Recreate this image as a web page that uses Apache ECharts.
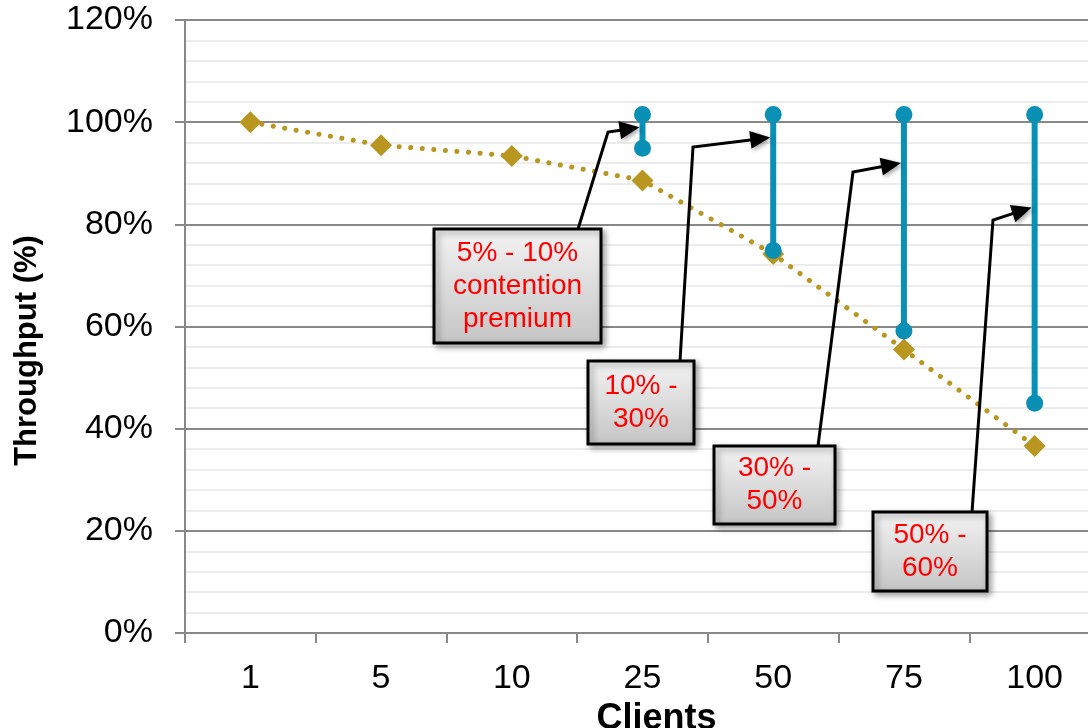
<!DOCTYPE html>
<html><head><meta charset="utf-8">
<script src="https://cdn.jsdelivr.net/npm/echarts@6/dist/echarts.min.js"></script>
<style>html,body{margin:0;padding:0;background:#fff}#c{width:1088px;height:728px}</style>
</head><body><div id="c"></div>
<script>
const categories = ['1','5','10','25','50','75','100'];
const throughput = [100, 95.5, 93.4, 88.6, 74.2, 55.5, 36.6];
const rangeCats = ['25','50','75','100'];
const rangeLow = [94.9, 74.9, 59.1, 45.0];
const rangeHigh = [101.5, 101.5, 101.5, 101.5];
const yTicks = [0, 20, 40, 60, 80, 100, 120];
const notes = ['5% - 10%\ncontention\npremium', '10% -\n30%', '30% -\n50%', '50% -\n60%'];
const noteTargets = [99.0, 97.0, 92.0, 83.3];

const GOLD = '#B8961F', TEAL = '#0A8FB5';
const chart = echarts.init(document.getElementById('c'));
const font = 'Liberation Sans, Arial, sans-serif';

chart.setOption({
  animation: false,
  grid: {left: 185, top: 20, right: -12, bottom: 95, outerBoundsMode: 'none', containLabel: false},
  xAxis: {
    type: 'category', data: categories,
    name: 'Clients', nameLocation: 'middle', nameGap: 61,
    nameTextStyle: {fontFamily: font, fontSize: 36, fontWeight: 'bold', color: '#000', padding: [0, 0, 0, 28]},
    axisLine: {lineStyle: {color: '#888', width: 2}},
    axisTick: {show: true, length: 10, lineStyle: {color: '#888', width: 2}},
    axisLabel: {fontFamily: font, fontSize: 34, color: '#000', margin: 29}
  },
  yAxis: {
    type: 'value', min: yTicks[0], max: yTicks[yTicks.length-1], interval: 20,
    name: 'Throughput (%)', nameLocation: 'middle', nameGap: 142,
    nameTextStyle: {fontFamily: font, fontSize: 31, fontWeight: 'bold', color: '#000', padding: [0, 48, 0, 0]},
    axisLine: {show: true, lineStyle: {color: '#888', width: 2}},
    axisTick: {show: true, length: 10, lineStyle: {color: '#888', width: 2}},
    axisLabel: {fontFamily: font, fontSize: 34, color: '#000', margin: 32, formatter: '{value}%'},
    splitLine: {lineStyle: {color: '#888', width: 2}},
    minorTick: {show: false, splitNumber: 5},
    minorSplitLine: {show: true, lineStyle: {color: '#ececec', width: 2}}
  },
  series: [
    {
      type: 'line', data: throughput, z: 3,
      symbol: 'diamond', symbolSize: 22,
      itemStyle: {color: GOLD},
      lineStyle: {color: GOLD, width: 5, type: [0.1, 11.5], cap: 'round'}
    },
    {
      type: 'custom', z: 4,
      data: rangeCats.map((c, i) => [c, rangeLow[i], rangeHigh[i]]),
      encode: {x: 0, y: [1, 2]},
      renderItem: function (params, api) {
        const lo = api.coord([api.value(0), api.value(1)]);
        const hi = api.coord([api.value(0), api.value(2)]);
        return {type: 'group', children: [
          {type: 'line', shape: {x1: lo[0], y1: lo[1], x2: hi[0], y2: hi[1]}, style: {stroke: TEAL, lineWidth: 6}},
          {type: 'circle', shape: {cx: lo[0], cy: lo[1], r: 8.5}, style: {fill: TEAL}},
          {type: 'circle', shape: {cx: hi[0], cy: hi[1], r: 8.5}, style: {fill: TEAL}}
        ]};
      }
    }
  ]
});

// annotation boxes (pixel layout) and arrows pointing at the range bars
const boxes = [
  {x: 434, y: 229, w: 167, h: 114, start: [578, 229], corner: [608, 132]},
  {x: 588, y: 361, w: 106, h: 83, start: [680, 361], corner: [693, 147]},
  {x: 714, y: 446, w: 121, h: 78, start: [818, 446], corner: [853, 172]},
  {x: 873, y: 512, w: 114, h: 79, start: [972, 512], corner: [993, 220]}
];
const graphics = [];
boxes.forEach((b, i) => {
  const tip = chart.convertToPixel({seriesIndex: 1}, [rangeCats[i], noteTargets[i]]);
  tip[0] -= 3;
  const dx = tip[0] - b.corner[0], dy = tip[1] - b.corner[1];
  const len = Math.sqrt(dx*dx + dy*dy), ux = dx/len, uy = dy/len;
  const hl = 20, hw = 9;
  const base = [tip[0] - ux*hl, tip[1] - uy*hl];
  graphics.push({
    type: 'polyline', z: 10,
    shape: {points: [b.start, b.corner, [base[0] + ux*4, base[1] + uy*4]]},
    style: {stroke: '#000', lineWidth: 3, fill: null}
  });
  graphics.push({
    type: 'polygon', z: 10,
    shape: {points: [tip, [base[0] - uy*hw, base[1] + ux*hw], [base[0] + uy*hw, base[1] - ux*hw]]},
    style: {fill: '#000', shadowBlur: 4, shadowColor: 'rgba(0,0,0,0.35)', shadowOffsetX: 2, shadowOffsetY: 2}
  });
  graphics.push({
    type: 'rect', z: 11,
    shape: {x: b.x, y: b.y, width: b.w, height: b.h},
    style: {
      fill: new echarts.graphic.LinearGradient(0, 0, 0, 1, [
        {offset: 0, color: '#f4f4f4'}, {offset: 1, color: '#c4c4c4'}
      ]),
      stroke: '#000', lineWidth: 3,
      shadowBlur: 6, shadowColor: 'rgba(0,0,0,0.35)', shadowOffsetX: 3, shadowOffsetY: 3
    }
  });
  graphics.push({
    type: 'text', z: 12,
    x: b.x + b.w / 2, y: b.y + b.h / 2,
    style: {text: notes[i], fill: '#ff0000', font: '28px ' + font, lineHeight: 33,
            align: 'center', verticalAlign: 'middle'}
  });
});
chart.setOption({graphic: graphics});
</script>
</body></html>
